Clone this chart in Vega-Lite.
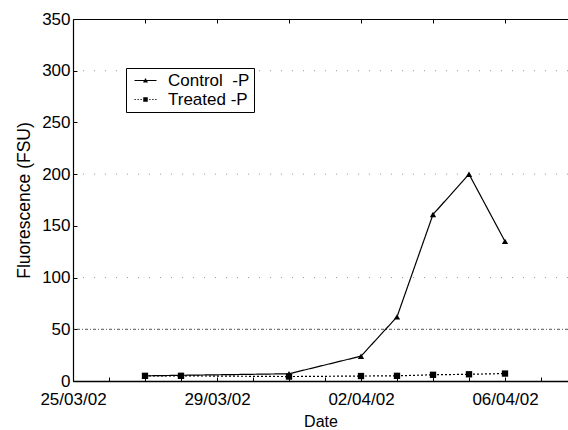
{
  "$schema": "https://vega.github.io/schema/vega-lite/v6.json",
  "autosize": "none",
  "padding": {"left": 73, "top": 19, "right": 0, "bottom": 49},
  "width": 495,
  "height": 362,
  "background": "white",
  "config": {
    "view": {"stroke": null},
    "font": "Liberation Sans",
    "axis": {"labelFont": "Liberation Sans", "titleFont": "Liberation Sans", "labelColor": "black", "titleColor": "black", "domainColor": "black", "tickColor": "black", "titleFontWeight": "normal", "grid": false},
    "axisY": {"values": [0, 50, 100, 150, 200, 250, 300, 350], "tickSize": -4, "labelFontSize": 17, "labelPadding": 7, "titleFontSize": 17.5, "titlePadding": 8, "domainWidth": 1.2}
  },
  "datasets": {
    "series": [
      {"date": "2002/03/27", "series": "Control\u00a0 -P", "value": 5},
      {"date": "2002/03/28", "series": "Control\u00a0 -P", "value": 5.5},
      {"date": "2002/03/31", "series": "Control\u00a0 -P", "value": 7},
      {"date": "2002/04/02", "series": "Control\u00a0 -P", "value": 24},
      {"date": "2002/04/03", "series": "Control\u00a0 -P", "value": 62},
      {"date": "2002/04/04", "series": "Control\u00a0 -P", "value": 161},
      {"date": "2002/04/05", "series": "Control\u00a0 -P", "value": 200},
      {"date": "2002/04/06", "series": "Control\u00a0 -P", "value": 135},
      {"date": "2002/03/27", "series": "Treated -P", "value": 5},
      {"date": "2002/03/28", "series": "Treated -P", "value": 5},
      {"date": "2002/03/31", "series": "Treated -P", "value": 4.3},
      {"date": "2002/04/02", "series": "Treated -P", "value": 4.8},
      {"date": "2002/04/03", "series": "Treated -P", "value": 5},
      {"date": "2002/04/04", "series": "Treated -P", "value": 6},
      {"date": "2002/04/05", "series": "Treated -P", "value": 6.5},
      {"date": "2002/04/06", "series": "Treated -P", "value": 7.2}
    ],
    "grid": [{"y": 100}, {"y": 200}, {"y": 300}],
    "grid50": [{"y": 50}]
  },
  "resolve": {"axis": {"x": "independent"}},
  "layer": [
    {
      "data": {"name": "grid"},
      "mark": {"type": "rule", "color": "#999999", "strokeDash": [1, 10], "strokeWidth": 1},
      "encoding": {"y": {"field": "y", "type": "quantitative", "scale": {"domain": [0, 350]}, "axis": {"title": "Fluorescence (FSU)"}}}
    },
    {
      "data": {"name": "grid50"},
      "mark": {"type": "rule", "color": "#555555", "strokeDash": [3, 2, 1, 2], "strokeWidth": 1},
      "encoding": {"y": {"field": "y", "type": "quantitative", "axis": {"title": "Fluorescence (FSU)"}}}
    },
    {
      "data": {"name": "series"},
      "mark": {"type": "line", "color": "black", "strokeWidth": 1.2},
      "encoding": {
        "x": {"field": "date", "type": "temporal",
          "scale": {"domain": [{"year": 2002, "month": 3, "date": 25}, {"year": 2002, "month": 4, "date": 7, "hours": 18}]},
          "axis": {"orient": "bottom", "title": "Date", "format": "%d/%m/%y",
            "values": [{"year": 2002, "month": 3, "date": 25}, {"year": 2002, "month": 3, "date": 29}, {"year": 2002, "month": 4, "date": 2}, {"year": 2002, "month": 4, "date": 6}],
            "tickSize": 0, "labelFontSize": 17, "labelPadding": 10, "titleFontSize": 16, "titlePadding": 6, "domainWidth": 1.5, "labelFlush": false}},
        "y": {"field": "value", "type": "quantitative", "axis": {"title": "Fluorescence (FSU)"}},
        "strokeDash": {"field": "series", "type": "nominal", "scale": {"range": [[1, 0], [2, 2]]}, "legend": null}
      }
    },
    {
      "data": {"name": "series"},
      "mark": {"type": "point", "filled": true, "color": "black", "opacity": 1},
      "encoding": {
        "x": {"field": "date", "type": "temporal",
          "axis": {"orient": "bottom", "title": null, "labels": false, "domain": false, "tickSize": -4, "tickWidth": 1,
            "values": [{"year": 2002, "month": 3, "date": 25}, {"year": 2002, "month": 3, "date": 26}, {"year": 2002, "month": 3, "date": 27}, {"year": 2002, "month": 3, "date": 28}, {"year": 2002, "month": 3, "date": 29}, {"year": 2002, "month": 3, "date": 30}, {"year": 2002, "month": 3, "date": 31}, {"year": 2002, "month": 4, "date": 1}, {"year": 2002, "month": 4, "date": 2}, {"year": 2002, "month": 4, "date": 3}, {"year": 2002, "month": 4, "date": 4}, {"year": 2002, "month": 4, "date": 5}, {"year": 2002, "month": 4, "date": 6}, {"year": 2002, "month": 4, "date": 7}]}},
        "y": {"field": "value", "type": "quantitative", "axis": {"title": "Fluorescence (FSU)"}},
        "shape": {"condition": {"test": "indexof(datum.series, 'Control') >= 0", "value": "triangle-up"}, "value": "square"},
        "size": {"condition": {"test": "indexof(datum.series, 'Control') >= 0", "value": 40}, "value": 40}
      }
    },
    {
      "data": {"name": "series"},
      "mark": {"type": "point", "opacity": 0, "filled": true, "color": "black"},
      "encoding": {
        "x": {"field": "date", "type": "temporal",
          "axis": {"orient": "top", "title": null, "labels": false, "tickSize": -4, "domainWidth": 1.2,
            "values": [{"year": 2002, "month": 3, "date": 27}, {"year": 2002, "month": 3, "date": 29}, {"year": 2002, "month": 3, "date": 31}, {"year": 2002, "month": 4, "date": 2}, {"year": 2002, "month": 4, "date": 4}, {"year": 2002, "month": 4, "date": 6}]}},
        "y": {"field": "value", "type": "quantitative", "axis": {"title": "Fluorescence (FSU)"}},
        "shape": {"field": "series", "type": "nominal",
          "scale": {"range": [
            "M-2.2,-0.11H2.2V0.11H-2.2ZM-0.5,0.42L0,-0.5L0.5,0.42Z",
            "M-2.2,-0.11H-1.95V0.11H-2.2ZM-1.6,-0.11H-1.35V0.11H-1.6ZM-1.0,-0.11H-0.75V0.11H-1.0ZM0.75,-0.11H1.0V0.11H0.75ZM1.35,-0.11H1.6V0.11H1.35ZM1.95,-0.11H2.2V0.11H1.95ZM-0.45,-0.45H0.45V0.45H-0.45Z"
          ]},
          "legend": {"title": null, "orient": "none", "legendX": 53, "legendY": 49,
            "strokeColor": "black", "fillColor": "white", "padding": 4, "labelFontSize": 17, "labelFont": "Liberation Sans", "labelColor": "black",
            "symbolSize": 100, "symbolOffset": 7, "labelOffset": 14, "rowPadding": 1,
            "symbolOpacity": 1, "symbolFillColor": "black", "symbolStrokeColor": "black", "symbolStrokeWidth": 0}}
      }
    }
  ]
}
